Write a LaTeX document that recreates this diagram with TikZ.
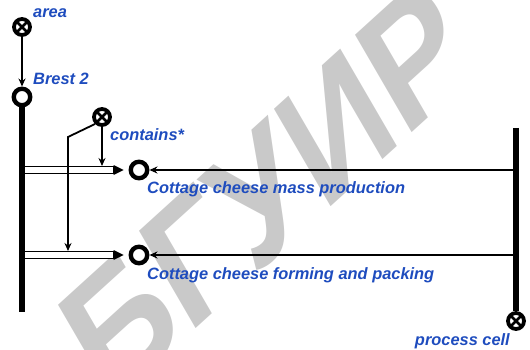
\documentclass[tikz,border=0pt]{standalone}
\usepackage{fontspec}
\setmainfont{Liberation Sans}
\usepackage{xcolor}
\usepackage{tikz}
\usetikzlibrary{arrows.meta,calc}
\definecolor{tagblue}{RGB}{30,76,190}
\tikzstyle{xpoint} = [circle, draw=black, line width=3.8pt, fill=white, minimum size=16pt, inner sep=0pt,
path picture={\draw[line width=2.8pt] (path picture bounding box.south west) -- (path picture bounding box.north east)
(path picture bounding box.north west) -- (path picture bounding box.south east);}]
\tikzstyle{opoint} = [circle, draw=black, line width=4.4pt, fill=white, minimum size=16.5pt, inner sep=0pt]
\tikzstyle{tag} = [font=\fontsize{16.4}{18}\selectfont\bfseries\itshape, text=tagblue, inner sep=0pt]
\tikzstyle{arrow} = [line width=1.8pt, -{Stealth[length=8pt,width=7pt]}]
\tikzstyle{rail} = [line width=5.5pt]
\tikzstyle{feed} = [draw=black, line width=1.5pt, fill=white]

\begin{document}
\begin{tikzpicture}[x=1pt,y=-1pt]
        \useasboundingbox (0,0) rectangle (530,350);
        % watermark
        \begin{scope}[shift={(266,192)}, yscale=1.25, rotate=36]
            \node (mark) [transform shape, text=black!21, font=\fontsize{140}{140}\selectfont\bfseries] at (0,0) {БГУИР};
        \end{scope}
        % points
        \node (area) [xpoint] at (22,27) {};
        \node (brest) [opoint] at (22,97) {};
        \node (cont) [xpoint] at (102,117) {};
        \node (prod) [opoint] at (139,170) {};
        \node (pack) [opoint] at (139,255) {};
        \node (cell) [xpoint] at (516,321) {};
        % tags
        \node (tarea) [tag, anchor=base west] at (33,18) {area};
        \node (tbrest) [tag, anchor=base west] at (33,85) {Brest 2};
        \node (tcont) [tag, anchor=base west] at (110,141) {contains*};
        \node (tprod) [tag, anchor=base west] at (147,193) {Cottage cheese mass production};
        \node (tpack) [tag, anchor=base west] at (147,279) {Cottage cheese forming and packing};
        \node (tcell) [tag, anchor=base east] at (510,345) {process cell};
        % rails
        \coordinate (lend) at (22,312);
        \coordinate (rtop) at (516,128);
        \draw [rail] (brest.south) -- (lend);
        \draw [rail] (rtop) -- (cell.north);
        % feeds
        \draw [feed] ($(lend |- prod)+(2,-3.5)$) rectangle ($(prod.west)+(-15,3.5)$);
        \fill ($(prod.west)+(-15,-5)$) -- ($(prod.west)+(-5,0)$) -- ($(prod.west)+(-15,5)$) -- cycle;
        \draw [feed] ($(lend |- pack)+(2,-3.5)$) rectangle ($(pack.west)+(-15,3.5)$);
        \fill ($(pack.west)+(-15,-5)$) -- ($(pack.west)+(-5,0)$) -- ($(pack.west)+(-15,5)$) -- cycle;
        % arrows
        \draw [arrow] (area.south) -- (brest.north);
        \draw [arrow] (rtop |- prod) -- (prod.east);
        \draw [arrow] (rtop |- pack) -- (pack.east);
        \coordinate (bend) at (68,137);
        \draw [arrow] (cont.south) -- ($(cont.south |- prod)+(0,-4)$);
        \draw [arrow] (cont.south west) -- (bend) -- ($(bend |- pack)+(0,-4)$);
    \end{tikzpicture}
\end{document}
